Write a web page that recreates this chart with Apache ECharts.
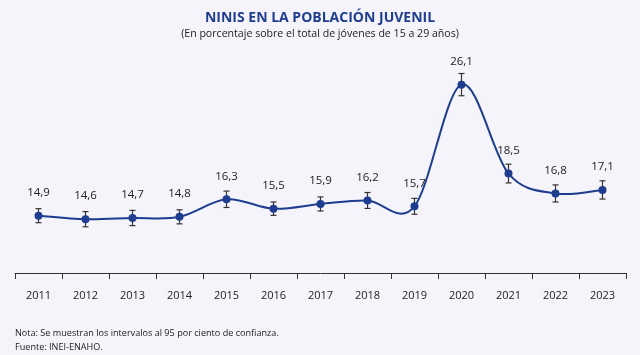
<!DOCTYPE html>
<html><head><meta charset="utf-8">
<script src="https://cdn.jsdelivr.net/npm/echarts@6/dist/echarts.min.js"></script>
<style>html,body{margin:0;padding:0;background:#f4f4fa;}#c{width:640px;height:355px;}</style>
</head><body><div id="c"></div>
<script>
const years = ['2011','2012','2013','2014','2015','2016','2017','2018','2019','2020','2021','2022','2023'];
const values = [14.9,14.6,14.7,14.8,16.3,15.5,15.9,16.2,15.7,26.1,18.5,16.8,17.1];
const lower = [14.3,13.95,14.05,14.2,15.6,14.93,15.3,15.52,15.02,25.15,17.7,16.07,16.32];
const upper = [15.5,15.25,15.35,15.4,17.0,16.07,16.5,16.88,16.38,27.05,19.3,17.53,17.88];
const labels = ['14,9','14,6','14,7','14,8','16,3','15,5','15,9','16,2','15,7','26,1','18,5','16,8','17,1'];

const chart = echarts.init(document.getElementById('c'));
const font = '"Open Sans", sans-serif';
const navy = '#1f3d8f';
chart.setOption({
  backgroundColor: '#f4f4fa',
  animation: false,
  title: [
    {text: 'NINIS EN LA POBLACIÓN JUVENIL', left: 'center', top: 6,
     textStyle: {fontFamily: font, fontSize: 14, fontWeight: 'bold', color: navy}},
    {text: '(En porcentaje sobre el total de jóvenes de 15 a 29 años)', left: 'center', top: 23,
     textStyle: {fontFamily: font, fontSize: 10.6, fontWeight: 'normal', color: '#222'}},
    {text: 'Nota: Se muestran los intervalos al 95 por ciento de confianza.\nFuente: INEI-ENAHO.', left: 10, top: 322,
     textStyle: {fontFamily: font, fontSize: 9.1, fontWeight: 'normal', color: '#222', lineHeight: 13.5}}
  ],
  grid: {left: 15, right: 14, top: 39, bottom: 82},
  xAxis: {
    type: 'category', data: years, boundaryGap: true,
    axisLine: {lineStyle: {color: '#333', width: 1}},
    axisTick: {show: true, inside: false, length: 6, lineStyle: {color: '#333'}},
    axisLabel: {fontFamily: font, fontSize: 11, color: '#222', margin: 17}
  },
  yAxis: {type: 'value', min: 10, max: 30, show: false, splitLine: {show: false}},
  series: [
    {
      // Catmull-Rom smoothed line, one segment per data item
      type: 'custom', z: 2,
      data: values.slice(0, -1).map((v, i) => [i, v]),
      renderItem: function (params, api) {
        const i = api.value(0);
        const n = values.length;
        const P = j => api.coord([Math.max(0, Math.min(n - 1, j)), values[Math.max(0, Math.min(n - 1, j))]]);
        const p0 = P(i - 1), p1 = P(i), p2 = P(i + 1), p3 = P(i + 2);
        const c1 = [p1[0] + (p2[0] - p0[0]) / 6, p1[1] + (p2[1] - p0[1]) / 6];
        const c2 = [p2[0] - (p3[0] - p1[0]) / 6, p2[1] - (p3[1] - p1[1]) / 6];
        return {
          type: 'bezierCurve',
          shape: {x1: p1[0], y1: p1[1], x2: p2[0], y2: p2[1], cpx1: c1[0], cpy1: c1[1], cpx2: c2[0], cpy2: c2[1]},
          style: {stroke: navy, lineWidth: 2, fill: null}
        };
      }
    },
    {
      type: 'custom', z: 3,
      data: years.map((y, i) => [i, lower[i], upper[i]]),
      renderItem: function (params, api) {
        const x = api.value(0);
        const lo = api.coord([x, api.value(1)]);
        const hi = api.coord([x, api.value(2)]);
        const w = 3;
        const st = {stroke: '#333', lineWidth: 1.2};
        return {type: 'group', children: [
          {type: 'line', shape: {x1: lo[0], y1: lo[1], x2: hi[0], y2: hi[1]}, style: st},
          {type: 'line', shape: {x1: lo[0]-w, y1: lo[1], x2: lo[0]+w, y2: lo[1]}, style: st},
          {type: 'line', shape: {x1: hi[0]-w, y1: hi[1], x2: hi[0]+w, y2: hi[1]}, style: st}
        ]};
      }
    },
    {
      type: 'scatter', data: values, z: 4,
      itemStyle: {color: navy, opacity: 1},
      symbol: 'circle', symbolSize: 8,
      label: {show: true, position: 'top', distance: 13, formatter: p => labels[p.dataIndex],
        fontFamily: font, fontSize: 11.5, color: '#222'}
    }
  ]
});
</script></body></html>
